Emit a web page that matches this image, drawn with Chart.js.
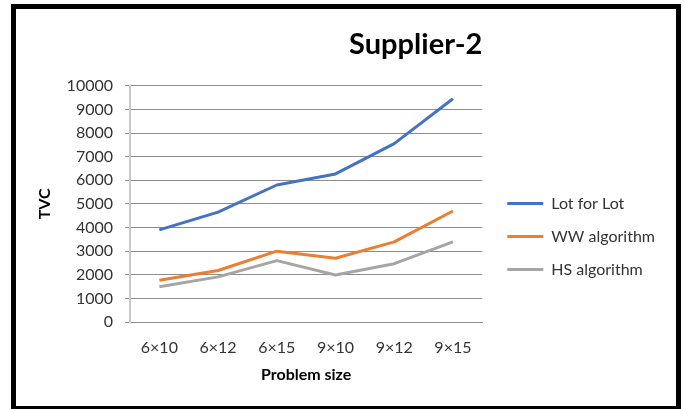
<!DOCTYPE html>
<html>
<head>
<meta charset="utf-8">
<script src="https://cdn.jsdelivr.net/npm/chart.js@4.4.1/dist/chart.umd.min.js"></script>
<style>
  html, body { margin: 0; padding: 0; background: #fff; overflow: hidden; }
  #wrap { position: relative; width: 684px; height: 409px; }
  #frame {
    position: absolute; left: 11px; top: 4px; width: 670px; height: 407px;
    box-sizing: border-box; border: 5px solid #000; pointer-events: none;
  }
  canvas { position: absolute; left: 0; top: 0; }
</style>
</head>
<body>
<div id="wrap">
  <canvas id="myChart" width="684" height="409"></canvas>
  <div id="frame"></div>
</div>
<script>
// values
const categories = ['6×10', '6×12', '6×15', '9×10', '9×12', '9×15'];
const lotForLot = [3900, 4650, 5800, 6270, 7550, 9450];
const wwAlgorithm = [1770, 2180, 3000, 2700, 3390, 4700];
const hsAlgorithm = [1490, 1910, 2600, 1990, 2470, 3390];
const yTicks = { min: 0, max: 10000, step: 1000 };

const FONT = 'Lato';
const textColor = '#333';

const ctx = document.getElementById('myChart').getContext('2d');
new Chart(ctx, {
  type: 'line',
  data: {
    labels: categories,
    datasets: [
      { label: 'Lot for Lot', data: lotForLot, borderColor: '#4472C4', backgroundColor: '#4472C4' },
      { label: 'WW algorithm', data: wwAlgorithm, borderColor: '#ED7D31', backgroundColor: '#ED7D31' },
      { label: 'HS algorithm', data: hsAlgorithm, borderColor: '#A5A5A5', backgroundColor: '#A5A5A5' }
    ]
  },
  options: {
    responsive: false,
    animation: false,
    layout: { padding: { left: 16, top: 9, right: 19, bottom: 3 } },
    elements: {
      line: { borderWidth: 3, tension: 0, borderJoinStyle: 'round' },
      // point border width is what the legend line uses
      point: { radius: 0, hoverRadius: 0, borderWidth: 3 }
    },
    plugins: {
      title: {
        display: true,
        text: 'Supplier-2',
        align: 'end',
        fullSize: false,
        color: '#000',
        font: { family: FONT, size: 29, weight: 'bold' },
        padding: { top: 18, bottom: 24 }
      },
      legend: {
        position: 'right',
        maxWidth: 220,
        // empty legend title just pushes the items down a bit
        title: { display: true, text: '', font: { size: 10 }, padding: { top: 46, bottom: 0 } },
        labels: {
          usePointStyle: true,
          pointStyle: 'line',
          pointStyleWidth: 36,
          padding: 17,
          color: textColor,
          font: { family: FONT, size: 16 }
        }
      },
      tooltip: { enabled: false }
    },
    scales: {
      x: {
        offset: true,
        afterFit: s => { s.height = 84; },
        grid: { display: false, drawTicks: false },
        border: { color: '#8c8c8c', width: 1 },
        ticks: { padding: 16, maxRotation: 0, autoSkip: false, color: textColor, font: { family: FONT, size: 16 } },
        title: {
          display: true, text: 'Problem size', color: '#000',
          font: { family: FONT, size: 16, weight: 'bold' },
          padding: { top: 0, bottom: 22 }
        }
      },
      y: {
        min: yTicks.min,
        max: yTicks.max,
        afterFit: s => { s.width = 114; },
        grid: { color: '#8c8c8c', lineWidth: 1, tickLength: 5 },
        border: { color: '#c8c8c8', width: 2 },
        ticks: {
          stepSize: yTicks.step, autoSkip: false, padding: 12,
          color: textColor, font: { family: FONT, size: 16 },
          callback: v => String(v)
        },
        title: {
          display: true, text: 'TVC', color: '#000',
          font: { family: FONT, size: 16, weight: 'bold' },
          padding: { top: 19, bottom: 0 }
        }
      },
      // empty spacer between plot and legend
      gap: {
        type: 'linear',
        position: 'right',
        afterFit: s => { s.width = 8; },
        grid: { display: false, drawTicks: false },
        border: { display: false },
        ticks: { display: false }
      }
    }
  }
});
</script>
</body>
</html>
